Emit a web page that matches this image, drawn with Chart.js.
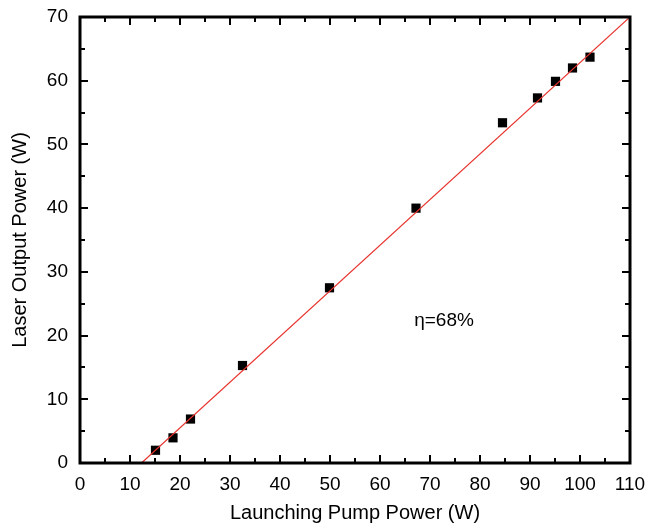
<!DOCTYPE html>
<html>
<head>
<meta charset="utf-8">
<script src="https://cdn.jsdelivr.net/npm/chart.js@4"></script>
<style>
  html, body { margin: 0; padding: 0; background: #fff; }
  #wrap { width: 650px; height: 525px; }
</style>
</head>
<body>
<div id="wrap"><canvas id="chart" width="650" height="525"></canvas></div>
<script>
// measured points
var pumpPower = [15.1, 18.6, 22.1, 32.5, 49.9, 67.2, 84.5, 91.5, 95.1, 98.5, 102.0];
var outputPower = [2.0, 3.95, 6.9, 15.3, 27.5, 40.0, 53.4, 57.3, 59.9, 62.0, 63.7];
// linear fit (end points)
var fitX = [12.3, 110];
var fitY = [0, 70];
var xTicks = [0, 10, 20, 30, 40, 50, 60, 70, 80, 90, 100, 110];
var yTicks = [0, 10, 20, 30, 40, 50, 60, 70];
var slopeLabel = 'η=68%';
var labelAt = [72.8, 22.3];

var FONT = 'Liberation Sans, Arial, sans-serif';

// frame with inward ticks on all four sides
var framePlugin = {
  id: 'frame',
  afterDatasetsDraw: function(chart) {
    var ctx = chart.ctx, a = chart.chartArea;
    var xs = chart.scales.x, ys = chart.scales.y;
    ctx.save();
    ctx.strokeStyle = '#000';
    ctx.lineWidth = 2;
    for (var v = 5; v < 110; v += 5) {
      var px = Math.round(xs.getPixelForValue(v));
      var len = v % 10 === 0 ? 8 : 5;
      ctx.beginPath();
      ctx.moveTo(px, a.bottom); ctx.lineTo(px, a.bottom - len);
      ctx.moveTo(px, a.top); ctx.lineTo(px, a.top + len);
      ctx.stroke();
    }
    for (var w = 5; w < 70; w += 5) {
      var py = Math.round(ys.getPixelForValue(w));
      var l2 = w % 10 === 0 ? 8 : 5;
      ctx.beginPath();
      ctx.moveTo(a.left, py); ctx.lineTo(a.left + l2, py);
      ctx.moveTo(a.right, py); ctx.lineTo(a.right - l2, py);
      ctx.stroke();
    }
    ctx.lineWidth = 3;
    ctx.strokeRect(a.left, a.top, a.right - a.left, a.bottom - a.top);
    ctx.fillStyle = '#000';
    ctx.font = '19px ' + FONT;
    ctx.textAlign = 'center';
    ctx.textBaseline = 'middle';
    ctx.fillText(slopeLabel, xs.getPixelForValue(labelAt[0]), ys.getPixelForValue(labelAt[1]));
    ctx.restore();
  }
};

new Chart(document.getElementById('chart'), {
  type: 'scatter',
  data: {
    datasets: [
      {
        type: 'line',
        data: fitX.map(function(x, i) { return { x: x, y: fitY[i] }; }),
        borderColor: '#e8322c',
        borderWidth: 1.2,
        pointRadius: 0,
        fill: false,
        tension: 0
      },
      {
        data: pumpPower.map(function(x, i) { return { x: x, y: outputPower[i] }; }),
        pointStyle: 'rect',
        pointRadius: 6.5,
        backgroundColor: '#000',
        borderColor: '#000',
        borderWidth: 0
      }
    ]
  },
  plugins: [framePlugin],
  options: {
    responsive: false,
    animation: false,
    layout: { padding: { top: 17, right: 20, left: 0, bottom: 0 } },
    plugins: { legend: { display: false }, tooltip: { enabled: false } },
    scales: {
      x: {
        type: 'linear', min: 0, max: 110,
        afterBuildTicks: function(s) { s.ticks = xTicks.map(function(v) { return { value: v }; }); },
        afterFit: function(s) { s.height = 62; s.paddingLeft = 0; s.paddingRight = 0; },
        grid: { display: false, drawTicks: false },
        border: { display: false },
        ticks: { color: '#000', font: { family: FONT, size: 19 }, padding: 10, maxRotation: 0 },
        title: { display: true, text: 'Launching Pump Power (W)', color: '#000',
                 font: { family: FONT, size: 20 }, padding: { top: 3, bottom: 0 } }
      },
      y: {
        type: 'linear', min: 0, max: 70,
        afterBuildTicks: function(s) { s.ticks = yTicks.map(function(v) { return { value: v }; }); },
        afterFit: function(s) { s.width = 80; s.paddingTop = 0; s.paddingBottom = 0; },
        grid: { display: false, drawTicks: false },
        border: { display: false },
        ticks: { color: '#000', font: { family: FONT, size: 19 }, padding: 12 },
        title: { display: true, text: 'Laser Output Power (W)', color: '#000',
                 font: { family: FONT, size: 20 }, padding: { top: 8, bottom: 0 } }
      }
    }
  }
});
</script>
</body>
</html>
